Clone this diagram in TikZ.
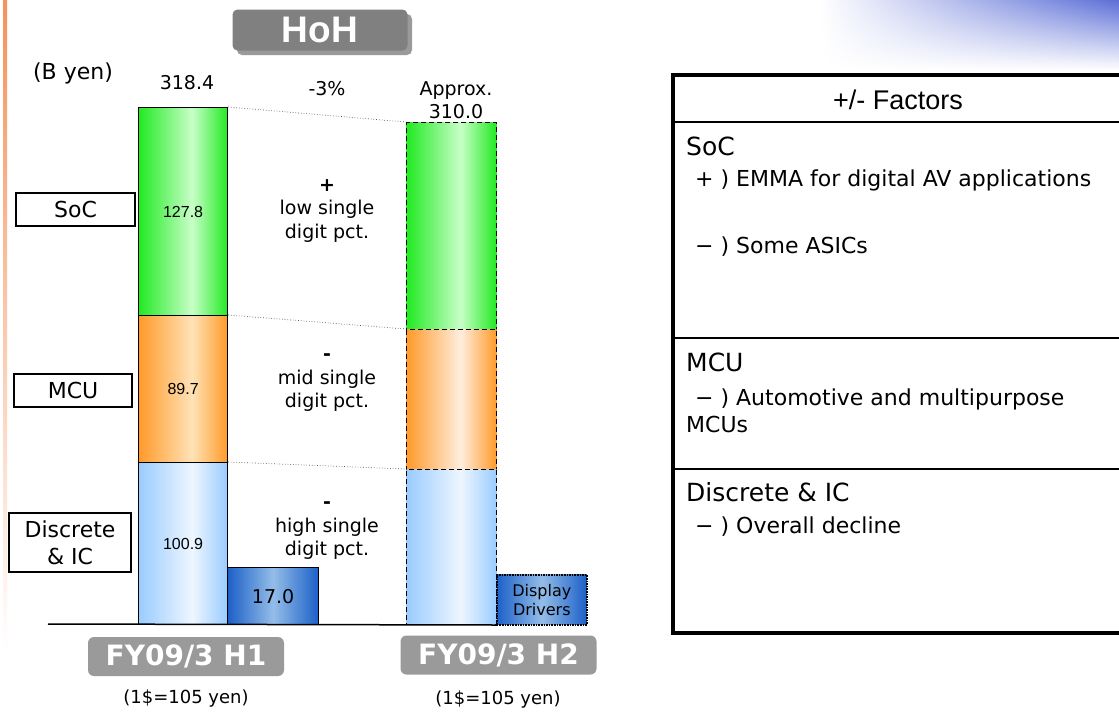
\documentclass[tikz,border=0pt]{standalone}
\usepackage{fontspec}
\setmainfont{DejaVu Sans}
\newfontfamily\arialf{Liberation Sans}
\usetikzlibrary{shadings}
\newcommand\fsz[2]{\fontsize{#1}{#2}\selectfont}
\definecolor{gA}{HTML}{22EA22}
\definecolor{gB}{HTML}{C8FFC8}
\definecolor{oA}{HTML}{FF9A2A}
\definecolor{oB}{HTML}{FFE2B6}
\definecolor{oC}{HTML}{FFEEDD}
\definecolor{bA}{HTML}{99CCFF}
\definecolor{bB}{HTML}{EEF6FF}
\definecolor{dA}{HTML}{1C60C8}
\definecolor{dB}{HTML}{94BDE8}
\definecolor{greyLbl}{HTML}{9A9A9A}
\definecolor{greyHoH}{HTML}{808080}
\definecolor{stripO}{HTML}{F4935A}
\definecolor{topBlue}{HTML}{5C6ED6}
\pgfdeclarehorizontalshading{greenbar}{100bp}{color(0bp)=(gA); color(25bp)=(gA); color(55bp)=(gB); color(75bp)=(gA); color(100bp)=(gA)}
\pgfdeclarehorizontalshading{orangebar}{100bp}{color(0bp)=(oA); color(25bp)=(oA); color(55bp)=(oB); color(75bp)=(oA); color(100bp)=(oA)}
\pgfdeclarehorizontalshading{orangebarb}{100bp}{color(0bp)=(oA); color(25bp)=(oA); color(55bp)=(oC); color(75bp)=(oA); color(100bp)=(oA)}
\pgfdeclarehorizontalshading{bluebar}{100bp}{color(0bp)=(bA); color(25bp)=(bA); color(55bp)=(bB); color(75bp)=(bA); color(100bp)=(bA)}
\pgfdeclarehorizontalshading{darkbar}{100bp}{color(0bp)=(dA); color(25bp)=(dA); color(50bp)=(dB); color(75bp)=(dA); color(100bp)=(dA)}
\begin{document}
\begin{tikzpicture}[x=1pt,y=-1pt,
  seg/.style={inner sep=0pt, anchor=north west, font=\arialf\fsz{16}{19}},
  hbar/.style={seg, draw=black, line width=1.2pt},
  hbardash/.style={seg, draw=black, line width=1pt, dash pattern=on 5pt off 3pt},
  lbl/.style={draw=black, line width=1.2pt, fill=white, inner sep=0pt, font=\fsz{22}{27}, align=center},
  chg/.style={font=\fsz{19}{23.5}, align=center},
  fybox/.style={fill=greyLbl, rounded corners=6pt, inner sep=0pt, minimum width=196pt, minimum height=39pt, text=white, font=\bfseries\fsz{28}{32}},
  rate/.style={font=\fsz{18}{22}},
  conn/.style={dotted, draw=black!65, line width=0.7pt},
  thead/.style={anchor=west, font=\fsz{25}{30}, inner sep=0pt},
  titem/.style={anchor=west, font=\fsz{22}{27}, inner sep=0pt, align=left}
]
\useasboundingbox (0,0) rectangle (1119,713);
\fill[white] (0,0) rectangle (1119,713);
% decorations
\shade[top color=stripO, bottom color=white] (3,0) rectangle (7,650);
\shade[upper right=topBlue, upper left=white, lower left=white, lower right=white] (820,0) rectangle (1119,70);

% title
\fill[greyHoH!80, rounded corners=5pt] (237,14) rectangle (412,55);
\node[fill=greyHoH, rounded corners=5pt, minimum width=175pt, minimum height=41pt, inner sep=0pt, text=white, font=\arialf\bfseries\fsz{37}{40}] (hoh) at (320,30) {HoH};

\node[font=\fsz{22}{26}] (unit) at (73,73) {(B yen)};
\node[font=\fsz{19}{23}] (tot1) at (187,83) {318.4};
\node[font=\fsz{19}{23}] (pct) at (327,89) {-3\%};
\node[font=\fsz{19}{23}, align=center] (tot2) at (456,100.5) {Approx.\\310.0};

% H1 bars
\node[hbar, shading=greenbar, minimum width=89pt, minimum height=208pt] (h1soc) at (138,107) {127.8};
\node[hbar, shading=orangebar, minimum width=89pt, minimum height=147pt] (h1mcu) at (138,315) {89.7};
\node[hbar, shading=bluebar, minimum width=89pt, minimum height=162pt] (h1dis) at (138,462) {100.9};
\node[hbar, shading=darkbar, minimum width=91pt, minimum height=57pt, font=\fsz{19}{23}] (h1dd) at (227,567) {17.0};

% H2 bars
\node[hbardash, shading=greenbar, minimum width=90pt, minimum height=207pt] (h2soc) at (406,122) {};
\node[hbardash, shading=orangebarb, minimum width=90pt, minimum height=140pt] (h2mcu) at (406,329) {};
\node[hbardash, shading=bluebar, minimum width=90pt, minimum height=155pt] (h2dis) at (406,469) {};
\node[seg, shading=darkbar, draw=black, line width=1.6pt, densely dotted, minimum width=90pt, minimum height=50pt, font=\fsz{16}{19}, align=center] (h2dd) at (496,574) {Display\\Drivers};

% connectors
\draw[conn] (h1soc.north east) -- (h2soc.north west);
\draw[conn] (h1mcu.north east) -- (h2mcu.north west);
\draw[conn] (h1dis.north east) -- (h2dis.north west);

% baseline
\coordinate (axL) at (48,624);
\draw[line width=1.5pt] (axL) -- (h2dis.south east);

% change texts
\node[chg] (c1) at (327,211) {{\bfseries +}\\low single\\digit pct.};
\node[chg] (c2) at (327,383) {{\bfseries -}\\mid single\\digit pct.};
\node[chg] (c3) at (327,531) {{\bfseries -}\\high single\\digit pct.};

% left labels
\node[lbl, minimum width=119pt, minimum height=33pt] (lsoc) at (75.5,209.5) {SoC};
\node[lbl, minimum width=118pt, minimum height=33pt] (lmcu) at (73,390.5) {MCU};
\node[lbl, minimum width=122pt, minimum height=59pt] (ldis) at (70,542.5) {Discrete\\\& IC};

% period labels
\node[fybox] (fy1) at (186,656.5) {FY09/3 H1};
\node[fybox] (fy2) at (498.5,655) {FY09/3 H2};
\node[rate] (r1) at (186,699) {(1\$=105 yen)};
\node[rate] (r2) at (498,700) {(1\$=105 yen)};

% factors table
\draw[line width=3.4pt] (1130,75) -- (673,75) -- (673,633) -- (1130,633);
\draw[line width=1.4pt] (673,122) -- (1130,122);
\draw[line width=1.4pt] (673,338) -- (1130,338);
\draw[line width=1.4pt] (673,469) -- (1130,469);
\node[font=\arialf\fsz{27}{30}] (fh) at (898,100) {+/- Factors};
\node[thead] (t1) at (686,146) {SoC};
\node[titem] (t1a) at (695,180) {+ ) EMMA for digital AV applications};
\node[titem] (t1b) at (695,247) {− ) Some ASICs};
\node[thead] (t2) at (686,362) {MCU};
\node[titem] (t2a) at (686,410.5) {\hspace*{9pt}− ) Automotive and multipurpose\\MCUs};
\node[thead] (t3) at (686,492) {Discrete \& IC};
\node[titem] (t3a) at (695,527) {− ) Overall decline};
\end{tikzpicture}
\end{document}
